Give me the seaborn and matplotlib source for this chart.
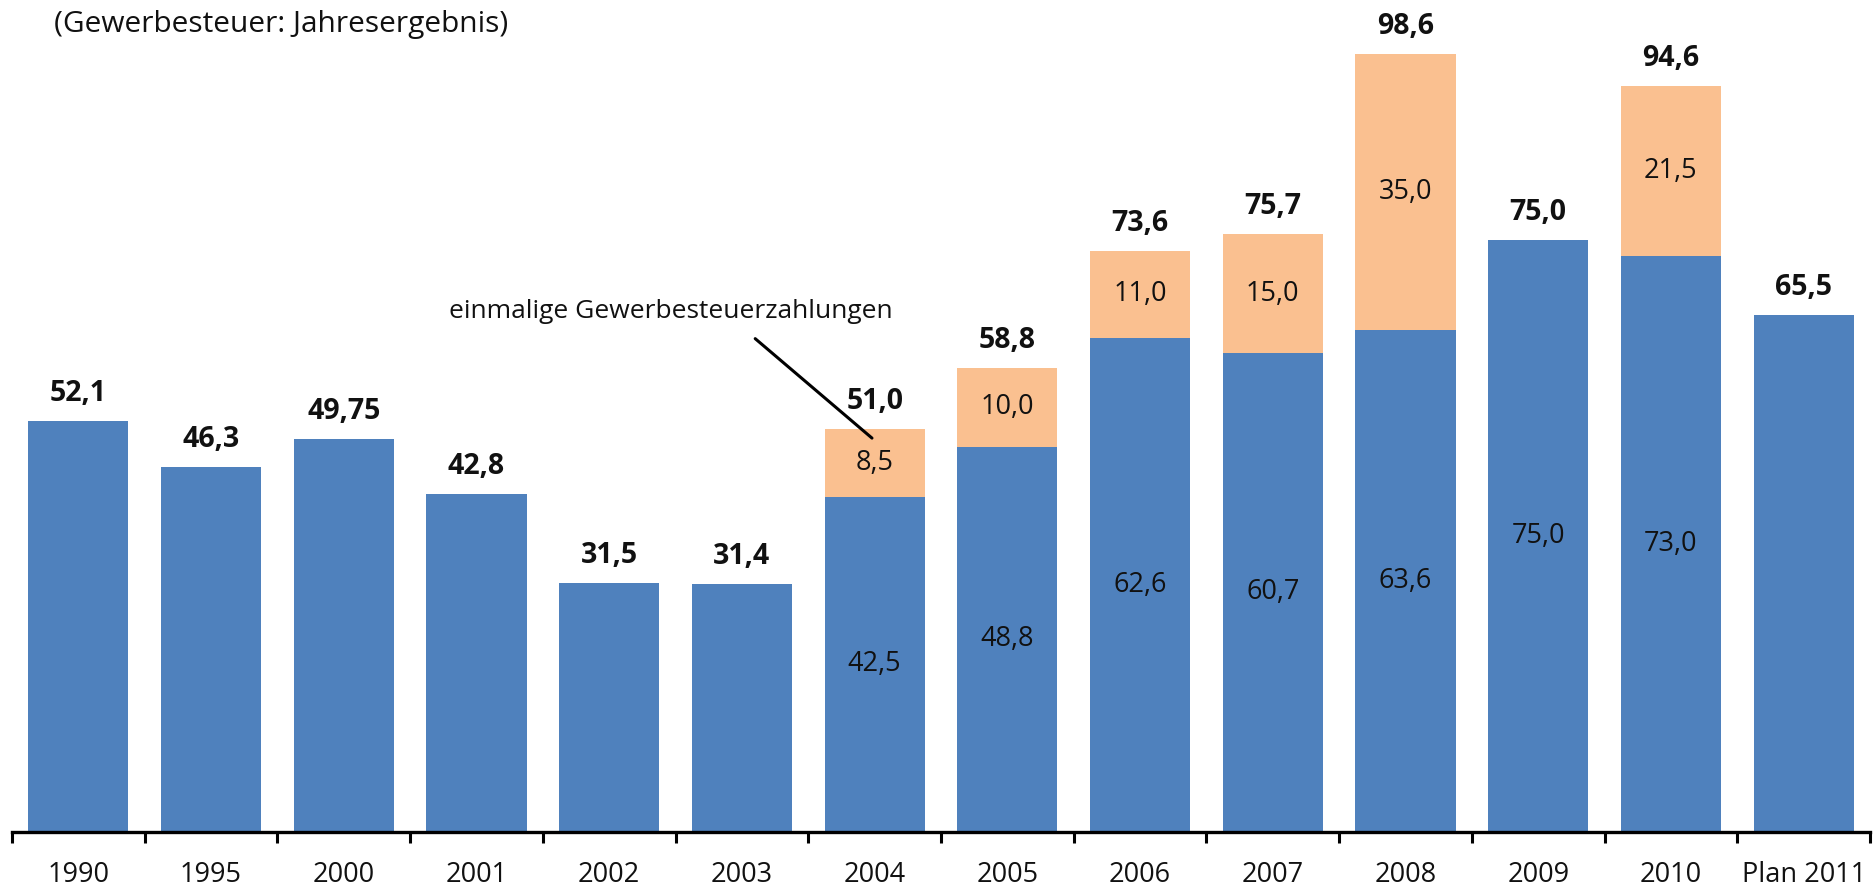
"""Gewerbesteuer: Jahresergebnis 1990 bis Plan 2011 als gestapeltes Balkendiagramm."""

import matplotlib
matplotlib.use("Agg")
import matplotlib.pyplot as plt
import numpy as np
import pandas as pd
import seaborn as sns
from matplotlib.ticker import FixedLocator

years = ["1990", "1995", "2000", "2001", "2002", "2003", "2004",
         "2005", "2006", "2007", "2008", "2009", "2010", "Plan 2011"]
# regulaere Gewerbesteuer (blau)
base = [52.1, 46.3, 49.75, 42.8, 31.5, 31.4, 42.5,
        48.8, 62.6, 60.7, 63.6, 75.0, 73.0, 65.5]
# einmalige Gewerbesteuerzahlungen (orange)
einmalig = [0, 0, 0, 0, 0, 0, 8.5, 10.0, 11.0, 15.0, 35.0, 0, 21.5, 0]
# Summen wie im Original beschriftet
totals = [52.1, 46.3, 49.75, 42.8, 31.5, 31.4, 51.0,
          58.8, 73.6, 75.7, 98.6, 75.0, 94.6, 65.5]
# Jahre mit Beschriftung im blauen Segment
inner_years = ["2004", "2005", "2006", "2007", "2008", "2009", "2010"]

BLUE = "#4F81BD"
ORANGE = "#FAC090"
TEXT = "#111111"


def fmt(value: float) -> str:
    text = f"{value:.2f}".rstrip("0")
    if text.endswith("."):
        text += "0"
    return text.replace(".", ",")


df = pd.DataFrame({"jahr": years, "basis": base, "einmalig": einmalig})
df["gesamt"] = df["basis"] + df["einmalig"]

sns.set_theme(style="white")
plt.rcParams["font.family"] = ["Open Sans", "DejaVu Sans"]

fig = plt.figure(figsize=(18.74, 8.88), dpi=100)
ax = fig.add_axes([12 / 1874, 56 / 888, 1858 / 1874, 832 / 888])

bar_width = 0.755
sns.barplot(data=df, x="jahr", y="gesamt", color=ORANGE, saturation=1,
            width=bar_width, ax=ax, order=years, linewidth=0)
sns.barplot(data=df, x="jahr", y="basis", color=BLUE, saturation=1,
            width=bar_width, ax=ax, order=years, linewidth=0)

ax.set_xlim(-0.5, len(years) - 0.5)
ax.set_ylim(0, 105.4)
ax.set_xlabel("")
ax.set_ylabel("")
ax.set_yticks([])

for side in ("left", "right", "top"):
    ax.spines[side].set_visible(False)
ax.spines["bottom"].set_color("black")
ax.spines["bottom"].set_linewidth(2.4)

ax.xaxis.set_minor_locator(FixedLocator(np.arange(-0.5, len(years), 1.0)))
ax.tick_params(axis="x", which="major", direction="in", length=5, width=2.2,
               color="black", pad=21, labelsize=19.5, labelcolor=TEXT)
ax.tick_params(axis="x", which="minor", direction="out", length=8, width=2.2,
               color="black", bottom=True)

# Werte
for i, year in enumerate(years):
    ax.annotate(fmt(totals[i]), xy=(i, df["gesamt"][i]), xytext=(0, 14.4),
                textcoords="offset points", ha="center", va="baseline",
                fontsize=20.5, fontweight="bold", color=TEXT)
    if year in inner_years:
        ax.text(i, base[i] / 2, fmt(base[i]), ha="center", va="center",
                fontsize=19.5, color=TEXT)
    if einmalig[i] > 0:
        ax.text(i, base[i] + einmalig[i] / 2, fmt(einmalig[i]), ha="center",
                va="center", fontsize=19.5, color=TEXT)

# Hinweis auf die einmaligen Zahlungen
idx = years.index("2004")
ax.annotate("", xy=(idx - 0.02, totals[idx] - 1.1), xytext=(5.10, 62.5),
            arrowprops=dict(arrowstyle="-", lw=2.2, color="black",
                            shrinkA=0, shrinkB=0))
ax.text(2.795, 65.1, "einmalige Gewerbesteuerzahlungen", ha="left",
        va="baseline", fontsize=19, color=TEXT)

fig.text(54 / 1874, 1 - 10 / 888, "(Gewerbesteuer: Jahresergebnis)",
         ha="left", va="top", fontsize=21.5, color=TEXT)

fig.savefig("out.png", dpi=100)
plt.close(fig)
